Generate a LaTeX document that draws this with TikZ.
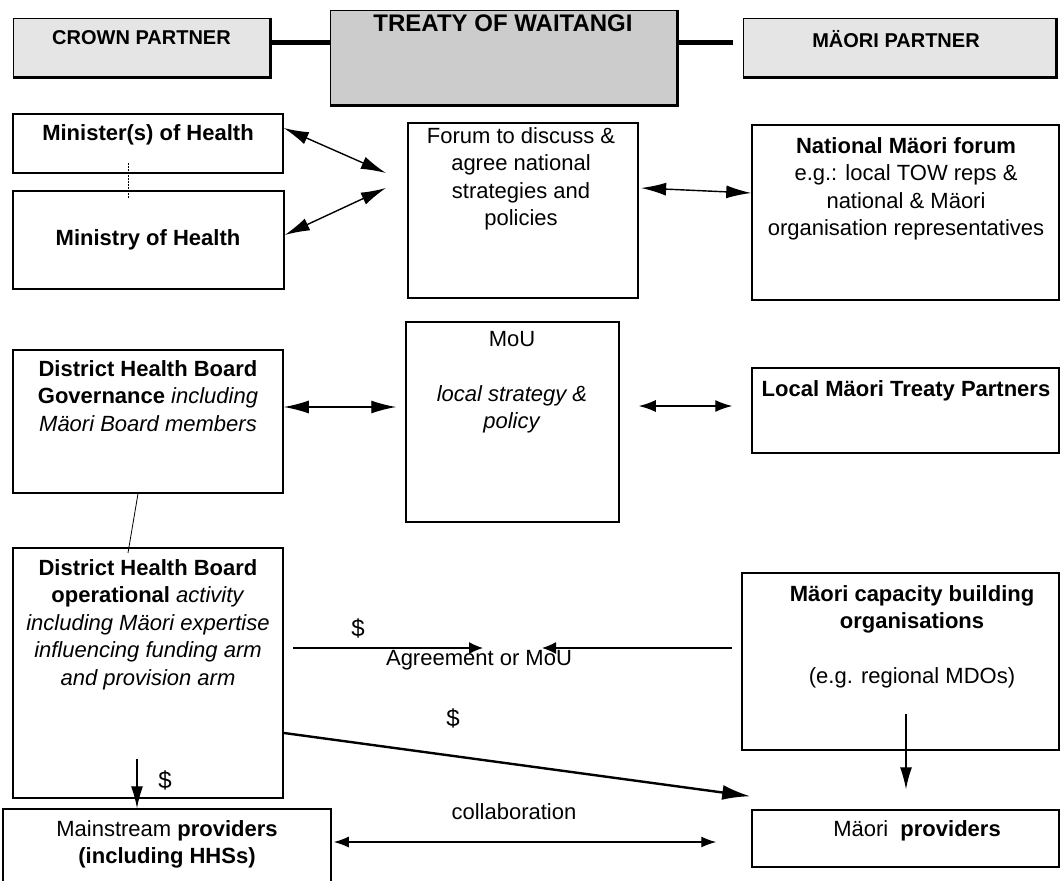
\documentclass[tikz,border=0pt]{standalone}
\usepackage{fontspec}
\setmainfont{Liberation Sans}
\usetikzlibrary{arrows.meta}

\tikzset{
  box/.style={draw, line width=1.5pt, inner sep=0pt},
  heavybox/.style={box, line width=2.2pt},
  partner/.style={draw, line width=1pt, inner sep=0pt},
  txt/.style={font=\fontsize{22}{27.5}\selectfont, align=center, inner sep=0pt, anchor=north},
  hdr/.style={txt, font=\fontsize{20}{24}\selectfont\bfseries},
  both/.style={line width=1.4pt, {Latex[length=25pt,width=13pt]}-{Latex[length=25pt,width=13pt]}},
  small/.style={line width=1.4pt, {Latex[length=17pt,width=12pt]}-{Latex[length=17pt,width=12pt]}},
  one/.style={line width=1.2pt, -{Latex[length=14pt,width=12pt]}},
  down/.style={line width=1.2pt, -{Latex[length=22pt,width=12pt]}},
}

\begin{document}
\begin{tikzpicture}[x=1pt,y=-1pt]
\useasboundingbox (0,0) rectangle (1061,881);

% partners and treaty
\node[partner, fill=gray!20, minimum width=257, minimum height=59] (crown) at (141.5,47.5) {};
\node[partner, fill=gray!40, minimum width=347, minimum height=95] (treaty) at (503.5,57.5) {};
\node[partner, fill=gray!20, minimum width=313, minimum height=59] (maori) at (899.5,47.5) {};
\foreach \n in {crown,treaty,maori} {\draw[line width=2.5pt] (\n.north east) -- (\n.south east) -- (\n.south west);}
\coordinate (mlink) at ([xshift=-10pt]maori.west);
\draw[line width=5pt] ([yshift=5.5pt]crown.east) -- ([yshift=5.5pt]crown.east -| treaty.west);
\draw[line width=5pt] ([yshift=15.5pt]treaty.east) -- ([yshift=15.5pt]treaty.east -| mlink);
\node[hdr] (crowntxt) at (141.5,30) {CROWN PARTNER};
\node[hdr, font=\fontsize{24}{28}\selectfont\bfseries] (treatytxt) at (503,14.5) {TREATY OF WAITANGI};
\node[hdr] (maoritxt) at (896,30) {MÄORI PARTNER};

% national level
\node[box, minimum width=270, minimum height=59] (minister) at (148,143.5) {};
\node[box, minimum width=271, minimum height=98] (ministry) at (148.5,240) {};
\node[heavybox, minimum width=230, minimum height=175] (forum) at (523,210.5) {};
\node[box, minimum width=307, minimum height=175] (national) at (905.5,212.5) {};
\node[txt] (ministertxt) at (148,124) {\textbf{Minister(s) of Health}};
\node[txt] (ministrytxt) at (148,229) {\textbf{Ministry of Health}};
\node[txt] (forumtxt) at (521,127) {Forum to discuss \&\\agree national\\strategies and\\policies};
\node[txt] (nationaltxt) at (906,137) {\textbf{National Mäori forum}\\e.g.: local TOW reps \&\\national \& Mäori\\organisation representatives};
\draw[densely dotted, line width=0.5pt] ([shift={(-20pt,11pt)}]minister.south) -- ([shift={(-20.5pt,-8pt)}]ministry.north);
\draw[both] ([yshift=15.5pt]minister.east) -- ([shift={(-21pt,37.5pt)}]forum.west);
\draw[both] ([yshift=5pt]ministry.east) -- ([shift={(-21pt,22.5pt)}]forum.west);
\draw[both] ([shift={(2pt,22.5pt)}]forum.east) -- ([yshift=19.5pt]national.west);

% district level
\node[box, minimum width=270, minimum height=143] (gov) at (148,421.5) {};
\node[box, minimum width=213, minimum height=200] (mou) at (512.5,422) {};
\node[box, minimum width=307, minimum height=85] (local) at (905.5,410.5) {};
\node[txt] (govtxt) at (148,360) {\textbf{District Health Board}\\\textbf{Governance} \textit{including}\\\textit{Mäori Board members}};
\node[txt] (moutxt) at (512,331) {MoU\\[27.5pt]\textit{local strategy \&}\\\textit{policy}};
\node[txt] (localtxt) at (906,380) {\textbf{Local Mäori Treaty Partners}};
\draw[both] ([yshift=14.5pt]gov.east) -- ([shift={(-9pt,15pt)}]mou.west);
\draw[small] ([shift={(19pt,16pt)}]mou.east) -- ([shift={(-19pt,4.5pt)}]local.west);

% operational level
\node[heavybox, minimum width=270, minimum height=250] (op) at (148,673) {};
\node[heavybox, minimum width=317, minimum height=177] (cap) at (900.5,661.5) {};
\node[txt] (optxt) at (148,559) {\textbf{District Health Board}\\\textbf{operational} \textit{activity}\\\textit{including Mäori expertise}\\\textit{influencing funding arm}\\\textit{and provision arm}};
\node[txt] (captxt) at (912,585) {\textbf{Mäori capacity building}\\\textbf{organisations}\\[27.5pt](e.g. regional MDOs)};
\draw[line width=0.8pt] ([xshift=-10pt]gov.south) -- ([shift={(-20pt,-6pt)}]op.north);
\node[txt] (agree) at (479,650) {Agreement or MoU};
\coordinate (agrL) at (483,648);
\coordinate (agrR) at (542,648);
\node[txt, font=\fontsize{24}{28}\selectfont] (dollara) at (358,619) {\$};
\node[txt, font=\fontsize{24}{28}\selectfont] (dollarb) at (453,709) {\$};
\node[txt, font=\fontsize{24}{28}\selectfont] (dollarc) at (165,771) {\$};
\draw[one] ([shift={(9pt,25pt)}]op.east) -- (agrL);
\draw[one] ([shift={(-9pt,13.5pt)}]cap.west) -- (agrR);

% providers
\node[box, minimum width=328, minimum height=76] (mainstream) at (167,847) {};
\node[box, minimum width=307, minimum height=57] (mprov) at (905.5,838.5) {};
\node[txt] (mainstreamtxt) at (167,820) {Mainstream \textbf{providers}\\\textbf{(including HHSs)}};
\node[txt] (mprovtxt) at (917,820) {Mäori\ \ \textbf{providers}};
\node[txt] (collab) at (514,803) {collaboration};
\draw[line width=2.4pt, -{Latex[length=28pt,width=15pt]}] ([yshift=-60pt]op.east) -- ([shift={(-1pt,13pt)}]mprov.north west);
\draw[down] ([shift={(5.5pt,37pt)}]cap.south) -- ([shift={(0.5pt,20pt)}]mprov.north);
\draw[down] ([shift={(-11pt,40pt)}]op.south) -- ([xshift=-30pt]mainstream.north);
\draw[line width=1.4pt, {Latex[length=15pt,width=11pt]}-{Latex[length=15pt,width=11pt]}] ([shift={(2pt,5pt)}]mainstream.east) -- ([shift={(-35pt,-3.5pt)}]mprov.west);
\end{tikzpicture}
\end{document}
